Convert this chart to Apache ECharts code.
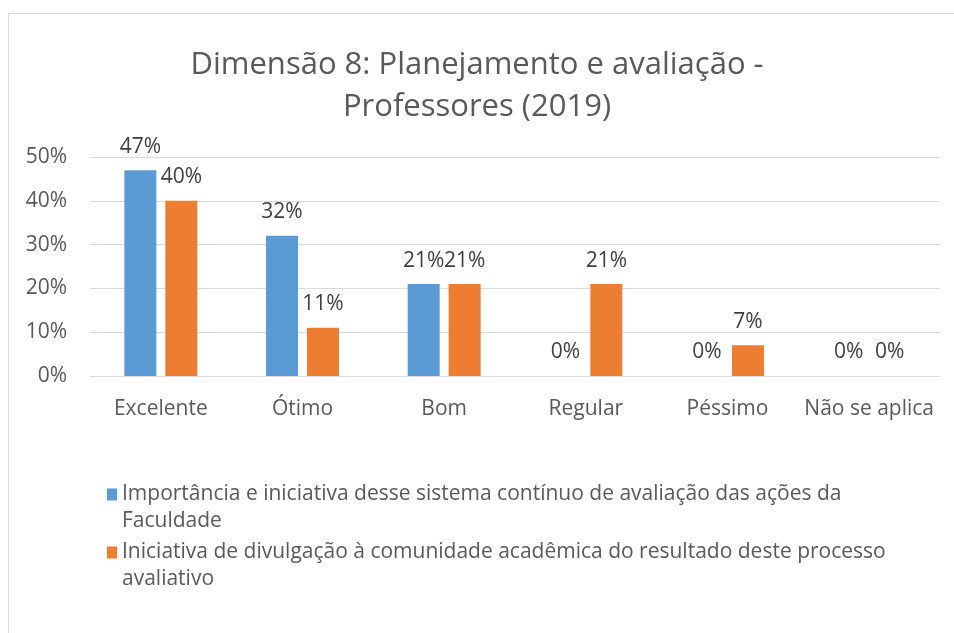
<!DOCTYPE html>
<html>
<head>
<meta charset="utf-8">
<script src="https://cdn.jsdelivr.net/npm/echarts@6/dist/echarts.min.js"></script>
<style>
  html, body { margin: 0; padding: 0; background: #fff; }
  #chart { width: 954px; height: 633px; }
</style>
</head>
<body>
<div id="chart"></div>
<script>
// dados
var categorias = ['Excelente', 'Ótimo', 'Bom', 'Regular', 'Péssimo', 'Não se aplica'];
var importancia = [47, 32, 21, 0, 0, 0];
var divulgacao = [40, 11, 21, 21, 7, 0];
var nomeImportancia = 'Importância e iniciativa desse sistema contínuo de avaliação das ações da Faculdade';
var nomeDivulgacao = 'Iniciativa de divulgação à comunidade acadêmica do resultado deste processo avaliativo';

var fonte = '"Open Sans", "Noto Sans", sans-serif';
var cinza = '#595959';

var chart = echarts.init(document.getElementById('chart'));

function quebra (nome) {
  // linha vazia no início para o ícone ficar na primeira linha, como no Excel
  if (nome === nomeImportancia) return '\nImportância e iniciativa desse sistema contínuo de avaliação das ações da\nFaculdade';
  return '\nIniciativa de divulgação à comunidade acadêmica do resultado deste processo\navaliativo';
}

var legendaBase = {
  orient: 'vertical',
  left: 107,
  padding: 0,
  icon: 'rect',
  itemWidth: 10,
  itemHeight: 12,
  formatter: quebra,
  textStyle: {
    fontFamily: fonte,
    fontSize: 21,
    color: cinza,
    lineHeight: 27
  }
};

var rotulo = {
  show: true,
  position: 'top',
  distance: 13,
  formatter: '{c}%',
  fontFamily: fonte,
  fontSize: 21,
  color: '#404040'
};

var option = {
  backgroundColor: '#fff',
  animation: false,
  title: {
    text: 'Dimensão 8: Planejamento e avaliação -\nProfessores (2019)',
    left: 'center',
    top: 39,
    textStyle: {
      fontFamily: fonte,
      fontSize: 31,
      fontWeight: 'normal',
      color: cinza,
      lineHeight: 42
    }
  },
  graphic: [{
    type: 'rect',
    shape: { x: 8.5, y: 13.5, width: 980, height: 660 },
    style: { fill: 'none', stroke: '#d9d9d9', lineWidth: 1 },
    silent: true
  }],
  legend: [
    Object.assign({}, legendaBase, { data: [nomeImportancia], top: 454 }),
    Object.assign({}, legendaBase, { data: [nomeDivulgacao], top: 512 })
  ],
  grid: {
    left: 90,
    right: 14,
    top: 157,
    bottom: 257
  },
  xAxis: {
    type: 'category',
    data: categorias,
    axisLine: { lineStyle: { color: '#d9d9d9' } },
    axisTick: { show: false },
    axisLabel: {
      interval: 0,
      margin: 23,
      fontFamily: fonte,
      fontSize: 21,
      color: cinza
    }
  },
  yAxis: {
    type: 'value',
    min: 0,
    max: 50,
    interval: 10,
    axisLine: { show: false },
    axisTick: { show: false },
    splitLine: { lineStyle: { color: '#d9d9d9' } },
    axisLabel: {
      formatter: '{value}%',
      margin: 23,
      fontFamily: fonte,
      fontSize: 21,
      color: cinza
    }
  },
  series: [
    {
      name: nomeImportancia,
      type: 'bar',
      data: importancia,
      barWidth: 32,
      barGap: '28%',
      itemStyle: { color: '#5b9bd5' },
      label: rotulo
    },
    {
      name: nomeDivulgacao,
      type: 'bar',
      data: divulgacao,
      barWidth: 32,
      itemStyle: { color: '#ed7d31' },
      label: rotulo
    }
  ]
};

chart.setOption(option);
</script>
</body>
</html>
